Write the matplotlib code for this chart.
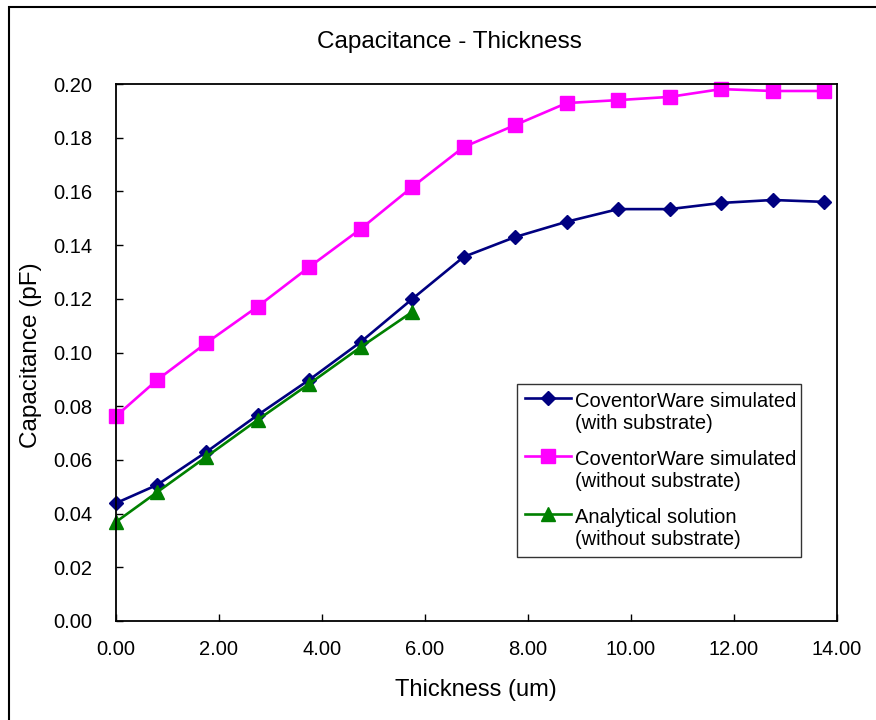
import matplotlib.pyplot as plt
from matplotlib.legend_handler import HandlerLine2D
from matplotlib.patches import Rectangle

plt.rcParams['font.family'] = ['Liberation Sans', 'DejaVu Sans']

thickness = [0.0, 0.8, 1.75, 2.75, 3.75, 4.75, 5.75, 6.75, 7.75, 8.75, 9.75, 10.75, 11.75, 12.75, 13.75]
with_sub = [0.0439, 0.0507, 0.0629, 0.0767, 0.0898, 0.1039, 0.1199, 0.1356, 0.1430,
            0.1487, 0.1534, 0.1534, 0.1557, 0.1568, 0.1561]
without_sub = [0.0763, 0.0898, 0.1035, 0.1171, 0.1318, 0.1460, 0.1616, 0.1765, 0.1847,
               0.1929, 0.1940, 0.1952, 0.1981, 0.1974, 0.1974]
analytical = [0.0369, 0.0480, 0.0611, 0.0749, 0.0883, 0.1020, 0.1151]

labels = ['CoventorWare simulated\n(with substrate)',
          'CoventorWare simulated\n(without substrate)',
          'Analytical solution\n(without substrate)']
xticks = [0, 2, 4, 6, 8, 10, 12, 14]
yticks = [0.00, 0.02, 0.04, 0.06, 0.08, 0.10, 0.12, 0.14, 0.16, 0.18, 0.20]


class FirstLineHandler(HandlerLine2D):
    # put the legend handle on the first line of a two-line label
    def create_artists(self, legend, orig_handle, xdescent, ydescent, width, height, fontsize, trans):
        arts = super().create_artists(legend, orig_handle, xdescent, ydescent, width, height, fontsize, trans)
        for a in arts:
            a.set_ydata([y + fontsize * 0.72 for y in a.get_ydata()])
        return arts


fig = plt.figure(figsize=(8.76, 7.2), dpi=100)
ax = fig.add_axes([116 / 876, 1 - 621 / 720, (837 - 116) / 876, (621 - 84) / 720])

ax.plot(thickness, with_sub, color='#000080', lw=1.9, marker='D', ms=7.6, label=labels[0], clip_on=False)
ax.plot(thickness, without_sub, color='#FF00FF', lw=1.9, marker='s', ms=9.8, label=labels[1], clip_on=False)
ax.plot(thickness[:len(analytical)], analytical, color='#008000', lw=1.9, marker='^', ms=9.8,
        label=labels[2], clip_on=False)

ax.set_xlim(0, 14)
ax.set_ylim(0, 0.2)
ax.set_xticks(xticks)
ax.set_xticklabels(['%.2f' % v for v in xticks])
ax.set_yticks(yticks)
ax.set_yticklabels(['%.2f' % v for v in yticks])
ax.tick_params(direction='in', length=5, width=1, labelsize=14.5)
ax.tick_params(axis='y', pad=17)
ax.tick_params(axis='x', pad=14)
for s in ax.spines.values():
    s.set_linewidth(1.3)

fig.text(449 / 876, 1 - 42 / 720, 'Capacitance - Thickness', fontsize=17.5, ha='center', va='center')
fig.text(476 / 876, 1 - 690 / 720, 'Thickness (um)', fontsize=17, ha='center', va='center')
fig.text(31 / 876, 1 - 355 / 720, 'Capacitance (pF)', fontsize=17.5, ha='center', va='center',
         rotation=90)

leg = ax.legend(handler_map={plt.Line2D: FirstLineHandler()}, loc='lower left',
                bbox_to_anchor=((517 - 116) / 721, (621 - 557) / 537, (801 - 517) / 721, (557 - 382) / 537),
                mode='expand', fontsize=14.5, frameon=True, fancybox=False, edgecolor='black',
                handlelength=2.3, handletextpad=0.2, labelspacing=0.85, borderpad=0.4,
                borderaxespad=0)
leg.get_frame().set_linewidth(1)
leg.set_zorder(5)

fig.patches.append(Rectangle((9 / 876, -0.1), 1.2, 1.1 - 7 / 720, transform=fig.transFigure,
                             fill=False, edgecolor='black', lw=1.5))

fig.savefig('out.png', dpi=100)
